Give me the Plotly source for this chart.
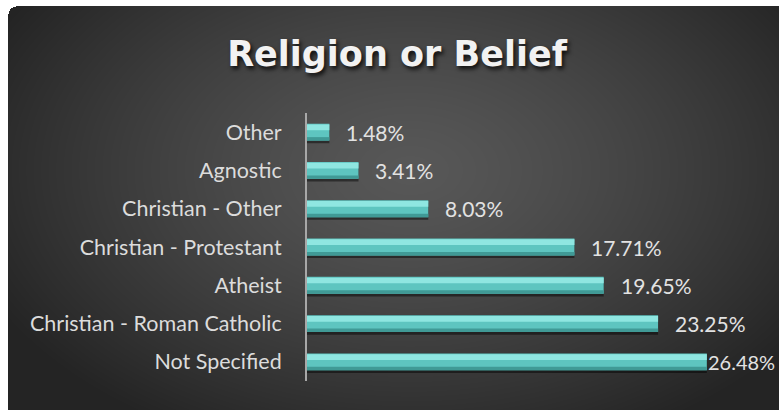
import base64
import struct
import zlib

import numpy as np
import plotly.graph_objects as go

# ---- data (top to bottom as shown) ----
categories = [
    "Other",
    "Agnostic",
    "Christian - Other",
    "Christian - Protestant",
    "Atheist",
    "Christian - Roman Catholic",
    "Not Specified",
]
shares = [1.48, 3.41, 8.03, 17.71, 19.65, 23.25, 26.48]
share_labels = ["1.48%", "3.41%", "8.03%", "17.71%", "19.65%", "23.25%", "26.48%"]

W, H = 779, 410
L, R, T, B = 307, 19, 113, 29
plot_w, plot_h = W - L - R, H - T - B


def png_data_uri(rgb):
    h, w, _ = rgb.shape
    raw = b"".join(b"\x00" + rgb[i].tobytes() for i in range(h))

    def chunk(tag, data):
        c = struct.pack(">I", len(data)) + tag + data
        return c + struct.pack(">I", zlib.crc32(tag + data) & 0xFFFFFFFF)

    png = b"\x89PNG\r\n\x1a\n"
    png += chunk(b"IHDR", struct.pack(">IIBBBBB", w, h, 8, 2, 0, 0, 0))
    png += chunk(b"IDAT", zlib.compress(raw, 9))
    png += chunk(b"IEND", b"")
    return "data:image/png;base64," + base64.b64encode(png).decode()


# radial-gradient dark card on a white page
yy, xx = np.mgrid[0:H, 0:W].astype(float)
d = np.sqrt(((xx - 410) / 470) ** 2 + ((yy - 170) / 300) ** 2)
d = np.clip(d, 0, 1)
shade = 88 - (88 - 36) * d ** 1.3
img = np.repeat(shade[:, :, None], 3, axis=2)
x0, y0, rad = 8, 6, 8
card = (xx >= x0) & (yy >= y0)
corner = (xx < x0 + rad) & (yy < y0 + rad) & (
    (xx - (x0 + rad)) ** 2 + (yy - (y0 + rad)) ** 2 > rad ** 2
)
card &= ~corner
img[~card] = 255
bg_uri = png_data_uri(img.astype(np.uint8))

fig = go.Figure()

bw = 0.44
# drop shadow
fig.add_trace(go.Bar(
    y=categories, x=shares, orientation="h", width=bw, offset=-bw / 2 - 0.07,
    marker=dict(color="rgba(0,0,0,0.45)", line=dict(width=0)), hoverinfo="skip",
))
# bar body
fig.add_trace(go.Bar(
    y=categories, x=shares, orientation="h", width=bw, offset=-bw / 2,
    marker=dict(color="#5ec5c0", line=dict(width=0)),
))
# bevel highlight along the top
fig.add_trace(go.Bar(
    y=categories, x=shares, orientation="h", width=0.15, offset=bw / 2 - 0.17,
    marker=dict(color="#8fe6e1", line=dict(width=0)), hoverinfo="skip",
))
# darker lower edge
fig.add_trace(go.Bar(
    y=categories, x=shares, orientation="h", width=0.09, offset=-bw / 2,
    marker=dict(color="#409a96", line=dict(width=0)), hoverinfo="skip",
))

# value labels (the longest one sits tight against its bar to stay inside)
for i, (c, v, t) in enumerate(zip(categories, shares, share_labels)):
    last = i == len(categories) - 1
    fig.add_annotation(
        x=v, y=c, text=t, showarrow=False, xanchor="left",
        xshift=-1 if last else 15,
        font=dict(family="Lato", size=20 if last else 21, color="#e2e2e2"),
    )

fig.update_layout(
    width=W, height=H,
    margin=dict(l=L, r=R, t=T, b=B, pad=0),
    paper_bgcolor="white",
    plot_bgcolor="rgba(0,0,0,0)",
    barmode="overlay",
    showlegend=False,
    title=dict(
        text="<b>Religion or Belief</b>",
        x=397 / W, xanchor="center", y=1 - 54 / H, yanchor="middle",
        font=dict(family="DejaVu Sans", size=35, color="#f2f2f2",
                  shadow="2px 3px 4px rgba(0,0,0,0.8)"),
    ),
    xaxis=dict(range=[0, plot_w / 15.1], visible=False, fixedrange=True),
    yaxis=dict(
        categoryorder="array", categoryarray=categories[::-1],
        showline=True, linecolor="#a8a8a8", linewidth=2,
        showgrid=False, zeroline=False, ticks="",
        ticklabelstandoff=19,
        tickfont=dict(family="Lato", size=21.5, color="#dcdcdc"),
    ),
    images=[dict(
        source=bg_uri, xref="paper", yref="paper",
        x=-L / plot_w, y=1 + T / plot_h, sizex=W / plot_w, sizey=H / plot_h,
        xanchor="left", yanchor="top", sizing="stretch", layer="below",
    )],
)

fig.write_html("out.html")
